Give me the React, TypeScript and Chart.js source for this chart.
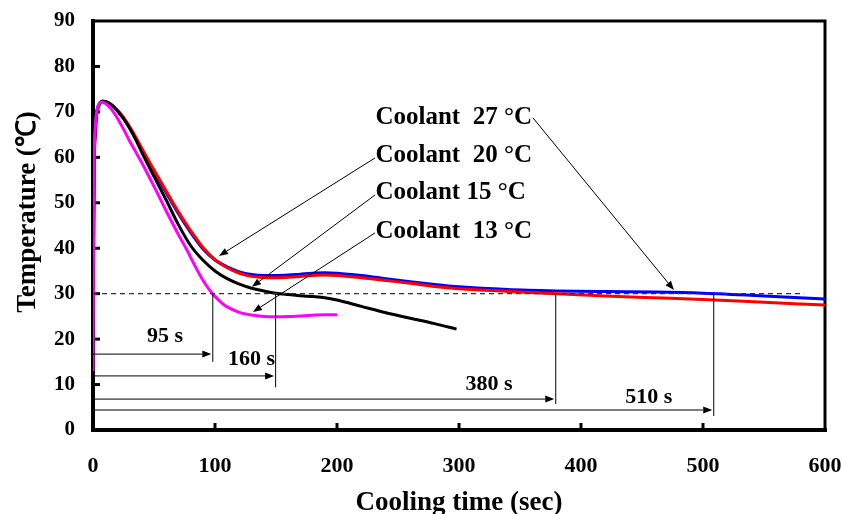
import React, { useEffect, useRef } from 'react';
import { Chart, registerables } from 'chart.js';

Chart.register(...registerables);

const FONT = "'Liberation Serif', 'Times New Roman', serif";

// Coolant 27 °C (blue)
const time27 = [0, 0.5, 1, 2, 3, 5, 8, 12, 16, 20, 25, 30, 35, 40, 50, 60, 70, 80, 90, 100, 110, 120, 130, 140, 150, 160, 170, 180, 190, 200, 220, 240, 260, 280, 300, 340, 380, 420, 460, 500, 550, 600];
const temp27 = [40, 55, 62, 67, 70, 71.7, 72.3, 72.1, 71.4, 70.3, 68.6, 66.5, 64.2, 61.7, 56.9, 52.2, 47.6, 43.5, 39.9, 37.4, 35.9, 34.8, 34.2, 34.0, 34.0, 34.1, 34.3, 34.5, 34.6, 34.5, 34.0, 33.3, 32.6, 32.0, 31.5, 30.9, 30.6, 30.45, 30.35, 30.1, 29.5, 28.8];

// Coolant 20 °C (red)
const time20 = [0, 0.5, 1, 2, 3, 5, 8, 12, 16, 20, 25, 30, 35, 40, 50, 60, 70, 80, 90, 100, 110, 120, 130, 140, 150, 160, 170, 180, 190, 200, 220, 240, 260, 280, 300, 340, 380, 420, 460, 500, 550, 600];
const temp20 = [21, 42, 58, 66, 69.5, 71.5, 72.3, 72.1, 71.4, 70.4, 68.8, 66.8, 64.5, 62.0, 57.2, 52.6, 48.0, 43.9, 40.2, 37.5, 35.7, 34.5, 33.8, 33.55, 33.5, 33.6, 33.8, 34.0, 34.1, 34.0, 33.5, 32.9, 32.3, 31.6, 31.1, 30.5, 30.0, 29.5, 29.1, 28.7, 28.1, 27.5];

// Coolant 15 °C (black)
const time15 = [0, 0.5, 1, 2, 3, 5, 8, 12, 16, 20, 25, 30, 35, 40, 50, 60, 70, 80, 90, 100, 110, 120, 130, 140, 150, 160, 170, 180, 190, 200, 220, 240, 260, 280, 298];
const temp15 = [12, 40, 58, 66, 69.5, 71.6, 72.4, 72.1, 71.3, 70.2, 68.5, 66.4, 63.9, 61.1, 55.8, 50.6, 45.2, 40.6, 37.4, 35.0, 33.3, 32.1, 31.2, 30.6, 30.1, 29.8, 29.55, 29.35, 29.1, 28.6, 27.2, 25.8, 24.6, 23.4, 22.2];

// Coolant 13 °C (magenta)
const time13 = [0, 0.5, 1, 2, 3, 5, 7, 10, 15, 20, 25, 30, 35, 40, 50, 60, 70, 77, 80, 85, 90, 95, 100, 105, 110, 120, 130, 140, 150, 160, 170, 180, 190, 200];
const temp13 = [13, 45, 60, 67, 70, 71.8, 72.2, 71.9, 70.6, 68.6, 66.2, 63.6, 61.2, 58.8, 53.6, 48.2, 43.0, 39.6, 38.0, 35.4, 33.0, 31.0, 29.4, 28.1, 27.1, 25.9, 25.3, 25.0, 24.9, 24.95, 25.1, 25.25, 25.35, 25.35];

const xTicks = [0, 100, 200, 300, 400, 500, 600];
const yTicks = [0, 10, 20, 30, 40, 50, 60, 70, 80, 90];

// annotations
const thresholdTemp = 30;
const thresholdEnd = 583;
const crossTimes = [98.2, 149.7, 379.3, 508.8];
const crossLabels = ['95 s', '160 s', '380 s', '510 s'];
const arrowLevels = [16.7, 11.9, 6.8, 4.4];
const vlineBottoms = [15.0, 9.4, 5.7, 3.1];
const crossLabelX = [59, 130, 324.7, 455.6];
const crossLabelY = [20.7, 15.6, 10.1, 7.3];

const coolantLabels = ['Coolant  27 °C', 'Coolant  20 °C', 'Coolant 15 °C', 'Coolant  13 °C'];
const coolantLabelX = 231.5;
const coolantLabelY = [68.66, 60.3, 52.2, 43.6];
const coolantArrowFrom = [[360.7, 68.66], [231.1, 59.86], [231.1, 51.7], [231.1, 43.35]];
const coolantArrowTo = [[476.2, 30.8], [103.3, 38.3], [130.3, 31.5], [131.1, 25.97]];

function toPoints(ts: number[], vs: number[]) {
  return ts.map((t, i) => ({ x: t, y: vs[i] }));
}

function arrow(ctx: CanvasRenderingContext2D, x1: number, y1: number, x2: number, y2: number) {
  const ang = Math.atan2(y2 - y1, x2 - x1);
  const len = 9;
  const hw = 3.5;
  const bx = x2 - len * Math.cos(ang);
  const by = y2 - len * Math.sin(ang);
  ctx.beginPath();
  ctx.moveTo(x1, y1);
  ctx.lineTo(bx, by);
  ctx.stroke();
  ctx.beginPath();
  ctx.moveTo(x2, y2);
  ctx.lineTo(bx + hw * Math.sin(ang), by - hw * Math.cos(ang));
  ctx.lineTo(bx - hw * Math.sin(ang), by + hw * Math.cos(ang));
  ctx.closePath();
  ctx.fill();
}

const framePlugin = {
  id: 'frame',
  beforeDatasetsDraw(chart: any) {
    const { ctx, chartArea } = chart;
    const { left, right, top, bottom } = chartArea;
    const xs = chart.scales.x;
    const ys = chart.scales.y;
    ctx.save();
    ctx.strokeStyle = '#000';
    ctx.lineCap = 'square';
    ctx.lineWidth = 4;
    ctx.beginPath();
    ctx.moveTo(left, top);
    ctx.lineTo(left, bottom);
    ctx.lineTo(right, bottom);
    ctx.stroke();
    ctx.lineWidth = 3;
    ctx.beginPath();
    ctx.moveTo(left, top);
    ctx.lineTo(right, top);
    ctx.lineTo(right, bottom);
    ctx.stroke();
    ctx.lineCap = 'butt';
    ctx.lineWidth = 3;
    yTicks.slice(1, -1).forEach((v) => {
      const py = ys.getPixelForValue(v);
      ctx.beginPath();
      ctx.moveTo(left, py);
      ctx.lineTo(left + 7, py);
      ctx.stroke();
    });
    xTicks.slice(1, -1).forEach((v) => {
      const px = xs.getPixelForValue(v);
      ctx.beginPath();
      ctx.moveTo(px, bottom);
      ctx.lineTo(px, bottom - 7);
      ctx.stroke();
    });
    ctx.restore();
  },
  afterDatasetsDraw(chart: any) {
    const { ctx } = chart;
    const xs = chart.scales.x;
    const ys = chart.scales.y;
    const X = (v: number) => xs.getPixelForValue(v);
    const Y = (v: number) => ys.getPixelForValue(v);
    ctx.save();
    // threshold dashed line
    ctx.strokeStyle = '#333';
    ctx.lineWidth = 1.2;
    ctx.setLineDash([5, 4]);
    ctx.beginPath();
    ctx.moveTo(X(0), Y(thresholdTemp));
    ctx.lineTo(X(thresholdEnd), Y(thresholdTemp));
    ctx.stroke();
    ctx.setLineDash([]);

    ctx.strokeStyle = '#000';
    ctx.fillStyle = '#000';
    ctx.lineWidth = 1;
    crossTimes.forEach((t, i) => {
      const px = X(t);
      ctx.beginPath();
      ctx.moveTo(px, Y(thresholdTemp));
      ctx.lineTo(px, Y(vlineBottoms[i]));
      ctx.stroke();
      arrow(ctx, X(0), Y(arrowLevels[i]), px - 1.5, Y(arrowLevels[i]));
    });

    coolantArrowFrom.forEach((p, i) => {
      const q = coolantArrowTo[i];
      arrow(ctx, X(p[0]), Y(p[1]), X(q[0]), Y(q[1]));
    });

    ctx.textBaseline = 'middle';
    ctx.textAlign = 'center';
    ctx.font = `bold 22px ${FONT}`;
    crossLabels.forEach((s, i) => {
      ctx.fillText(s, X(crossLabelX[i]), Y(crossLabelY[i]));
    });

    ctx.textAlign = 'left';
    ctx.font = `bold 25px ${FONT}`;
    coolantLabels.forEach((s, i) => {
      ctx.fillText(s, X(coolantLabelX), Y(coolantLabelY[i]));
    });

    // y axis title
    ctx.translate(28, 212);
    ctx.rotate(-Math.PI / 2);
    ctx.textAlign = 'center';
    ctx.font = `bold 27px ${FONT}`;
    ctx.fillText('Temperature (℃)', 0, 0);
    ctx.restore();
  },
};

export default function App() {
  const ref = useRef<HTMLCanvasElement | null>(null);
  useEffect(() => {
    if (!ref.current) return;
    const common = { pointRadius: 0, borderWidth: 3, fill: false, cubicInterpolationMode: 'monotone' as const };
    const chart = new Chart(ref.current, {
      type: 'line',
      data: {
        datasets: [
          { label: 'Coolant 13 °C', data: toPoints(time13, temp13), borderColor: '#ff00ff', order: 0, ...common },
          { label: 'Coolant 15 °C', data: toPoints(time15, temp15), borderColor: '#000000', order: 1, ...common },
          { label: 'Coolant 20 °C', data: toPoints(time20, temp20), borderColor: '#ff0000', order: 2, ...common },
          { label: 'Coolant 27 °C', data: toPoints(time27, temp27), borderColor: '#0000ff', order: 3, ...common },
        ],
      },
      options: {
        animation: false,
        responsive: false,
        layout: { padding: { left: 0, top: 21, right: 18, bottom: 0 } },
        plugins: { legend: { display: false }, tooltip: { enabled: false } },
        scales: {
          x: {
            type: 'linear',
            min: 0,
            max: 600,
            afterBuildTicks: (s: any) => { s.ticks = xTicks.map((v) => ({ value: v })); },
            afterFit: (s: any) => { s.height = 84; s.paddingLeft = 0; s.paddingRight = 0; },
            grid: { display: false, drawTicks: true, tickLength: 23 },
            border: { display: false },
            ticks: { color: '#000', padding: 0, maxRotation: 0, font: { family: FONT, size: 22, weight: 'bold' } },
            title: { display: true, text: 'Cooling time (sec)', color: '#000', padding: 0, font: { family: FONT, size: 27, weight: 'bold', lineHeight: 0.8 } },
          },
          y: {
            type: 'linear',
            min: 0,
            max: 90,
            afterBuildTicks: (s: any) => { s.ticks = yTicks.map((v) => ({ value: v })); },
            afterFit: (s: any) => { s.width = 93; s.paddingTop = 0; s.paddingBottom = 0; },
            grid: { display: false, drawTicks: true, tickLength: 18 },
            border: { display: false },
            ticks: { color: '#000', padding: 0, font: { family: FONT, size: 21, weight: 'bold' } },
          },
        },
      },
      plugins: [framePlugin],
    });
    return () => chart.destroy();
  }, []);
  return (
    <canvas ref={ref} width={843} height={514} style={{ position: 'absolute', left: 0, top: 0, background: '#fff' }} />
  );
}
